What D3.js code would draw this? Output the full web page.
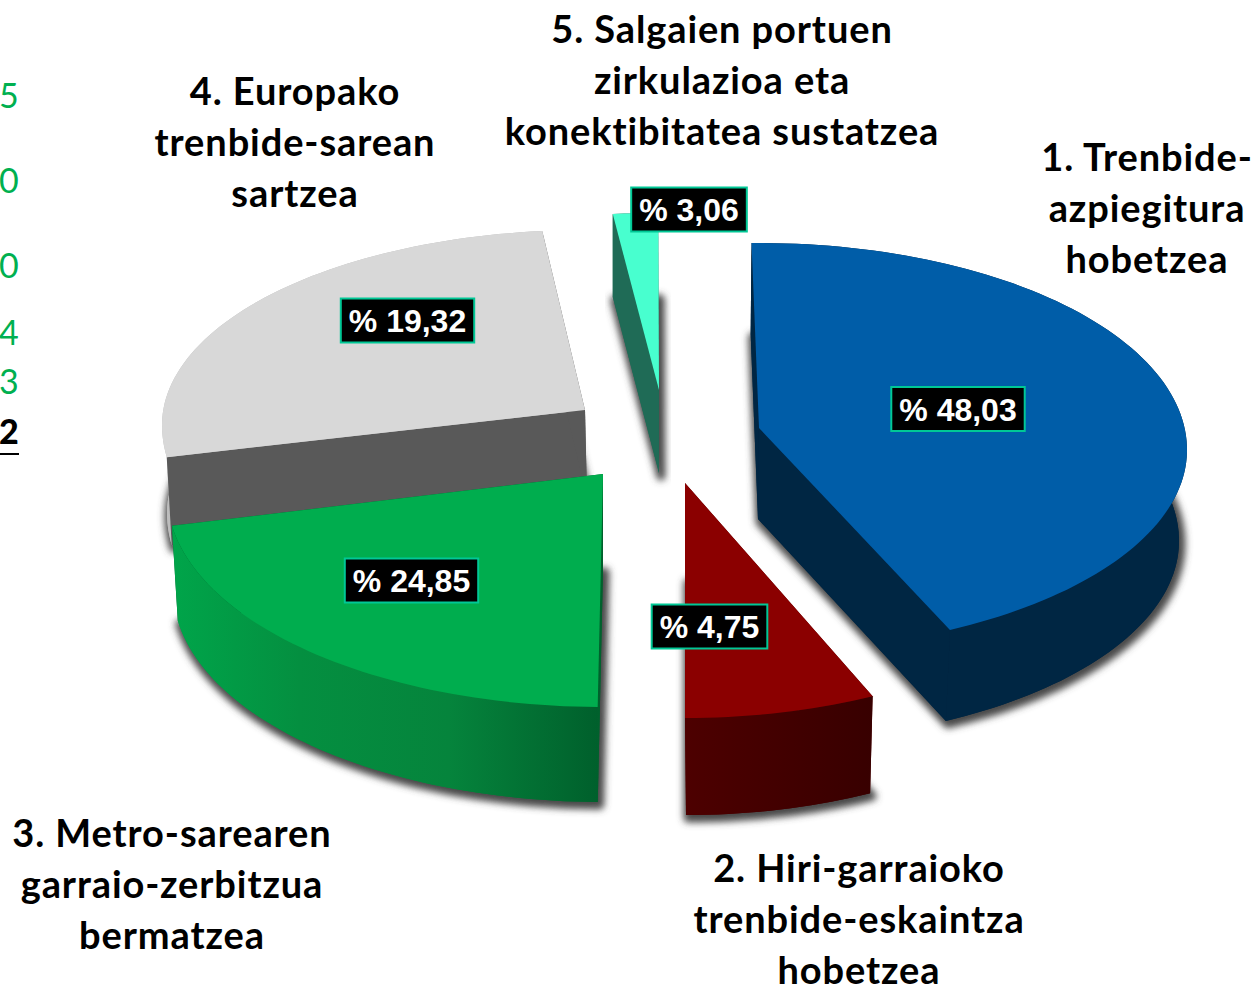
<!DOCTYPE html>
<html><head><meta charset="utf-8">
<script src="https://cdn.jsdelivr.net/npm/d3@7/dist/d3.min.js"></script>
<style>html,body{margin:0;padding:0;background:#fff;overflow:hidden}svg{display:block}</style>
</head><body><svg id="c" width="1254" height="987"></svg>
<script>
const categories = ["1","2","3","4","5"];
const shares = [48.03, 4.75, 24.85, 19.32, 3.06];
const shareLabels = ["% 48,03","% 4,75","% 24,85","% 19,32","% 3,06"];
const titles = [
  ["1. Trenbide-","azpiegitura","hobetzea"],
  ["2. Hiri-garraioko","trenbide-eskaintza","hobetzea"],
  ["3. Metro-sarearen","garraio-zerbitzua","bermatzea"],
  ["4. Europako","trenbide-sarean","sartzea"],
  ["5. Salgaien portuen","zirkulazioa eta","konektibitatea sustatzea"]
];
const sideNumbers = ["5","0","0","4","3","2"];

// drawing style and layout (kept apart from values)
const topColors  = ["#005DA8","#8B0000","#00AD4E","#D8D8D8","#48FFCF"];
const wallColors = ["#002643","url(#gRed)","url(#gGreen)","#BDBDBD","#1F6B56"];
const cutColors  = ["#002643","#4D0000","#00602C","#595959","#1F6B56"];
const drawOrder = [3,4,0,1,2];
const layout = [
  {ax:759,ay:428,rx:428,rt:185,rb:223,mid:22,depth:91,bdx:-1,brx:421,da0:0,da1:0},
  {ax:685,ay:483,rx:428,rt:185,rb:235,mid:20,depth:97,bdx:1,brx:420,da0:0.5,da1:-0.7},
  {ax:603,ay:474,rx:436,rt:185,rb:233,mid:20,depth:95,bdx:0,brx:430,da0:0,da1:0},
  {ax:585,ay:410,rx:423,rt:180,rb:230,mid:15,depth:88,bdx:2,brx:420,da0:0,da1:0},
  {ax:659,ay:390,rx:428,rt:177,rb:230,mid:0,depth:83,bdx:0,brx:428,da0:-0.4,da1:0}
];
const labelCenters = [[958,409],[709.5,626.5],[411.5,580.5],[407.5,320.5],[689,209.5]];
const titleAnchors = [[1147,171],[859,882],[172,847],[295,104.5],[722,43]];
const sideBaselines = [108,193,278,345,394,444];

const svg = d3.select("#c");
const defs = svg.append("defs");
const blur = defs.append("filter").attr("id","soft").attr("x","-20%").attr("y","-20%").attr("width","140%").attr("height","140%");
blur.append("feGaussianBlur").attr("stdDeviation",3.5);
function gradient(id,stops){
  const g = defs.append("linearGradient").attr("id",id).attr("x1","0").attr("x2","1").attr("y1","0").attr("y2","0");
  stops.forEach(s=>g.append("stop").attr("offset",s[0]).attr("stop-color",s[1]));
}
gradient("gGreen",[[0,"#00A54A"],[0.3,"#048F40"],[0.65,"#05843C"],[1,"#00602C"]]);
gradient("gRed",[[0,"#4D0000"],[1,"#380000"]]);

// pie angles from the values; the edge scale reproduces the view's apparent angles
const pie = d3.pie().sort(null).value(d=>d).startAngle(0).endAngle(2*Math.PI);
const arcs = pie(shares);
const toDeg = d3.scaleLinear().domain([0,2*Math.PI]).range([0,360]);
const edges = [arcs[0].startAngle].concat(arcs.map(a=>a.endAngle)).map(toDeg);
const apparent = d3.scaleLinear().domain(edges).range([-1,153.5,180.7,261.4,354.2,359.9]);

function point(l,deg,bottom){
  const t = deg*Math.PI/180, s=Math.sin(t), c=Math.cos(t);
  const ax = bottom? l.ax+l.bdx : l.ax, ay = bottom? l.ay+l.depth : l.ay, rx = bottom? l.brx : l.rx;
  return [ax+rx*s, ay+l.mid-(c>0?l.rt+l.mid:l.rb-l.mid)*c];
}
function sample(a0,a1){ const n=Math.max(8,Math.ceil((a1-a0)/1.5)); return d3.range(n+1).map(i=>a0+(a1-a0)*i/n); }
const line = d3.line().curve(d3.curveLinear);

const shadowLayer = svg.append("g");
const pieLayer = svg.append("g");

drawOrder.forEach(i=>{
  const a = arcs[i], l = layout[i];
  const a0 = apparent(toDeg(a.startAngle))+l.da0, a1 = apparent(toDeg(a.endAngle))+l.da1;
  const degs = sample(a0,a1);
  const topRim = degs.map(d=>point(l,d,false));
  const botRim = degs.map(d=>point(l,d,true));
  const topPts = [[l.ax,l.ay]].concat(topRim);
  const botPts = [[l.ax+l.bdx,l.ay+l.depth]].concat(botRim);
  shadowLayer.append("path").attr("d",line(botPts)+"Z")
    .attr("transform","translate(2,3)")
    .attr("fill","#4a4a4a").attr("stroke","#4a4a4a").attr("stroke-width",9).attr("stroke-linejoin","round")
    .attr("filter","url(#soft)");
  const g = pieLayer.append("g").attr("class","slice");
  // the rim wall as one path of overlapping strips, so its silhouette is the true union
  const rimStrips = d3.range(degs.length-1).map(k=>
    line([topRim[k],topRim[k+1],botRim[k+1],botRim[k]].sort(()=>0))+"Z").join("");
  const cuts = [[topPts[0],topPts[1],botPts[1],botPts[0]],
                [topPts[0],topPts[topPts.length-1],botPts[botPts.length-1],botPts[0]]];
  const drawOuter = ()=>{
    g.append("path").attr("d",line(botPts)+"Z").attr("fill",wallColors[i]);
    g.append("path").attr("d",rimStrips).attr("fill",wallColors[i])
      .attr("stroke",cutColors[i]==="#595959"?"none":"none");
  };
  const drawCuts = ()=>cuts.forEach(q=>g.append("path").attr("d",line(q)+"Z").attr("fill",cutColors[i]));
  const midCos = Math.cos((a0+a1)/2*Math.PI/180);
  if(midCos>0){ drawOuter(); drawCuts(); } else { drawCuts(); drawOuter(); }
  g.append("path").attr("d",line(topPts)+"Z").attr("fill",topColors[i]);
});

// share boxes
const labelFont = "'Liberation Sans',Arial,sans-serif";
shareLabels.forEach((t,i)=>{
  const [cx,cy] = labelCenters[i];
  const g = svg.append("g").attr("class","share");
  const box = g.append("rect").attr("fill","#000").attr("stroke","#00C896").attr("stroke-width",2);
  const tx = g.append("text").attr("x",cx).attr("y",cy+11.5).attr("text-anchor","middle")
    .attr("font-family",labelFont).attr("font-weight","700").attr("font-size",32).attr("fill","#fff").text(t);
  const w = tx.node().getComputedTextLength();
  box.attr("x",cx-w/2-8).attr("y",cy-22).attr("width",w+16).attr("height",44);
});

// category titles
titles.forEach((lines,i)=>{
  const [x,y] = titleAnchors[i];
  const tx = svg.append("text").attr("text-anchor","middle").attr("font-family","Lato,Carlito,sans-serif")
    .attr("font-weight","700").attr("font-size",38).attr("letter-spacing",0.9).attr("fill","#000");
  lines.forEach((s,j)=>tx.append("tspan").attr("x",x).attr("y",y+j*51).text(s));
});

// digits cut at the left edge of the picture
sideNumbers.forEach((s,i)=>{
  const last = i===sideNumbers.length-1;
  svg.append("text").attr("x",-1).attr("y",sideBaselines[i])
    .attr("font-family","Lato,Carlito,sans-serif").attr("font-size",34)
    .attr("font-weight",last?"900":"400").attr("fill",last?"#000":"#00B050").text(s);
});
const lastBase = sideBaselines[sideBaselines.length-1];
svg.append("line").attr("x1",0).attr("x2",19).attr("y1",lastBase+10).attr("y2",lastBase+10).attr("stroke","#000").attr("stroke-width",2);
</script></body></html>
